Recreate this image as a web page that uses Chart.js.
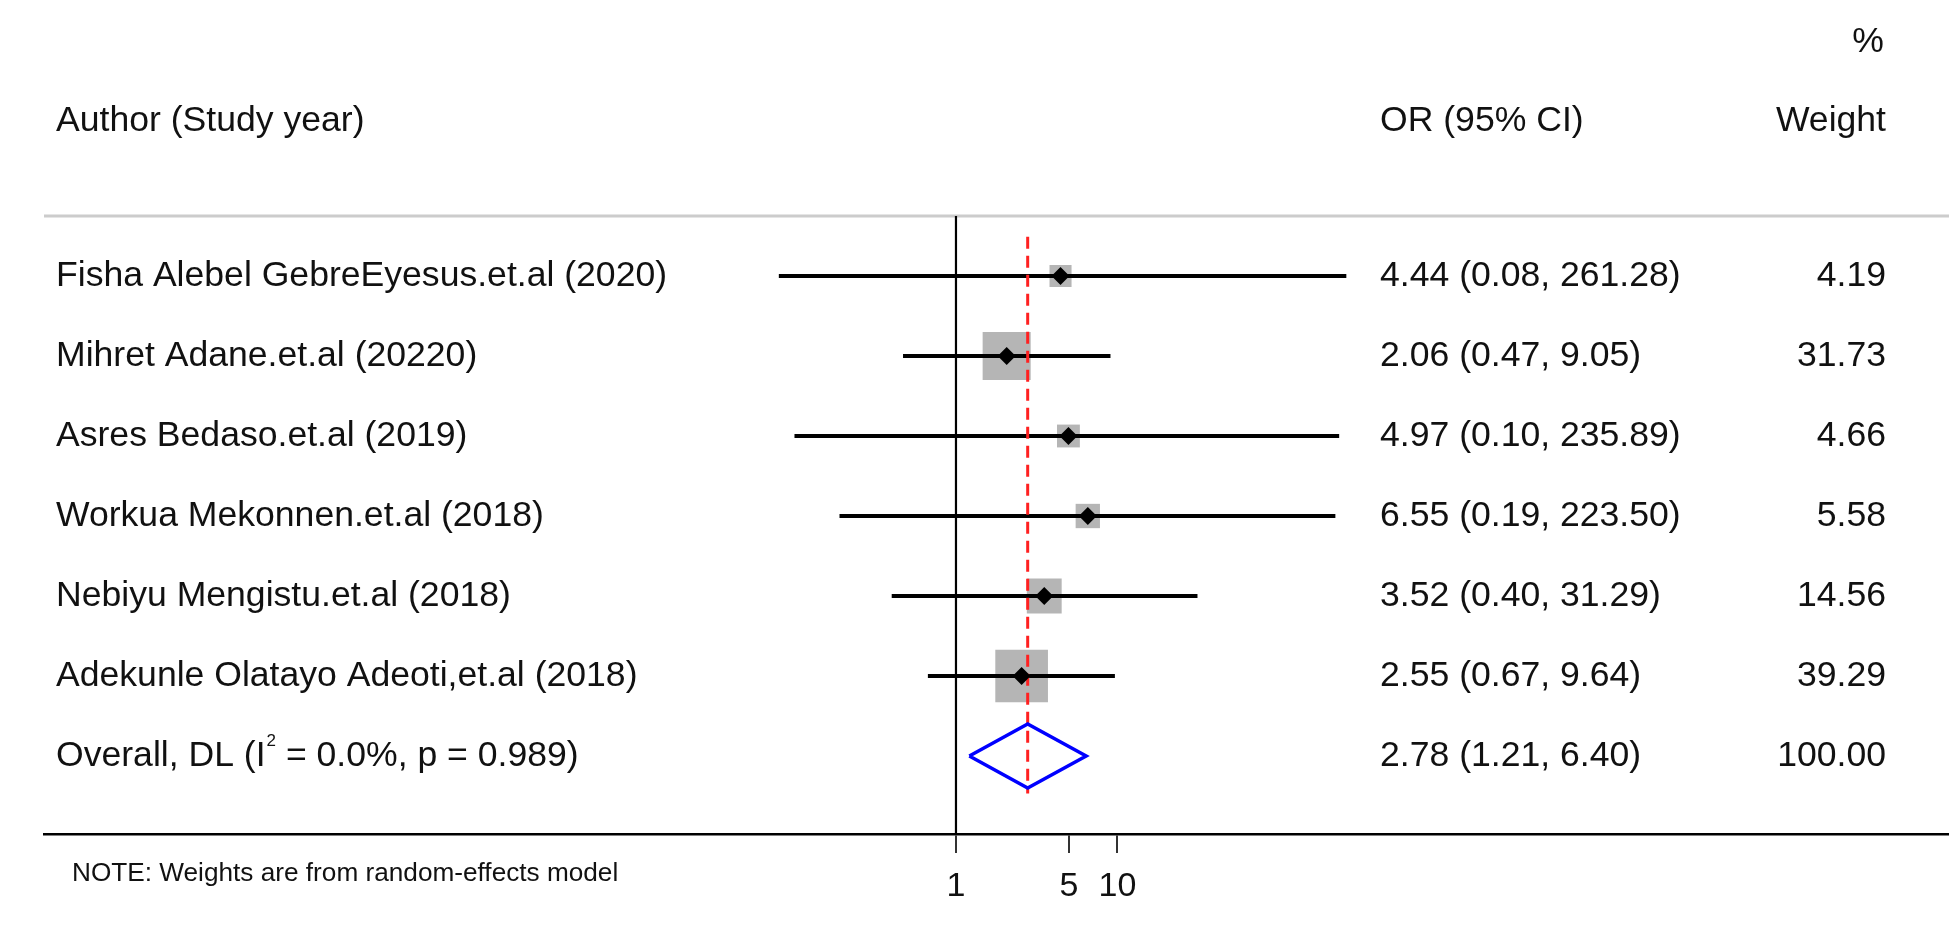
<!DOCTYPE html>
<html>
<head>
<meta charset="utf-8">
<script src="https://cdn.jsdelivr.net/npm/chart.js@4.4.1/dist/chart.umd.min.js"></script>
<style>
  html, body { margin: 0; padding: 0; background: #fff; }
  #forest { display: block; }
</style>
</head>
<body>
<canvas id="forest" width="1949" height="938"></canvas>
<script>
var studies = [
  'Fisha Alebel GebreEyesus.et.al (2020)',
  'Mihret Adane.et.al (20220)',
  'Asres Bedaso.et.al (2019)',
  'Workua Mekonnen.et.al (2018)',
  'Nebiyu Mengistu.et.al (2018)',
  'Adekunle Olatayo Adeoti,et.al (2018)'
];
var orValues = [4.44, 2.06, 4.97, 6.55, 3.52, 2.55];
var ciLower = [0.08, 0.47, 0.10, 0.19, 0.40, 0.67];
var ciUpper = [261.28, 9.05, 235.89, 223.50, 31.29, 9.64];
var weights = [4.19, 31.73, 4.66, 5.58, 14.56, 39.29];
var overallOR = [2.78, 1.21, 6.40]; // estimate, lower, upper
var overallWeight = 100.00;
var heterogeneity = ['0.0%', '0.989']; // I^2, p
var xTicks = [1, 5, 10];

var FONT = '"Liberation Sans", Arial, sans-serif';
var overallRow = studies.length;
var yMin = -0.75, yMax = 6.975;

function fmt(v) { return v.toFixed(2); }

// gray weight boxes, grow with weight
var boxData = orValues.map(function (v, i) { return { x: v, y: i }; });
var boxRadius = weights.map(function (w) { return (7.2 + 7.25 * Math.sqrt(w)) / 2 / Math.SQRT1_2; });

var ciSets = studies.map(function (s, i) {
  return {
    data: [{ x: ciLower[i], y: i }, { x: ciUpper[i], y: i }],
    showLine: true,
    borderColor: '#000',
    borderWidth: 4,
    pointRadius: 0,
    order: 4
  };
});

var datasets = [
  {
    // overall diamond
    data: [
      { x: overallOR[1], y: overallRow },
      { x: overallOR[0], y: overallRow - 0.4 },
      { x: overallOR[2], y: overallRow },
      { x: overallOR[0], y: overallRow + 0.4 },
      { x: overallOR[1], y: overallRow }
    ],
    showLine: true,
    borderColor: '#0000ff',
    borderWidth: 3.5,
    pointRadius: 0,
    order: 1
  },
  {
    // point estimates
    data: orValues.map(function (v, i) { return { x: v, y: i }; }),
    pointStyle: 'rectRot',
    pointRadius: 9,
    backgroundColor: '#000',
    borderColor: '#000',
    borderWidth: 0,
    order: 2
  },
  {
    // overall estimate line
    data: [{ x: overallOR[0], y: -0.49 }, { x: overallOR[0], y: overallRow + 0.47 }],
    showLine: true,
    borderColor: '#ff2020',
    borderWidth: 3,
    borderDash: [12, 7],
    pointRadius: 0,
    order: 3
  },
  {
    // weight boxes
    data: boxData,
    pointStyle: 'rect',
    pointRadius: boxRadius,
    backgroundColor: '#b5b5b5',
    borderWidth: 0,
    order: 5
  },
  {
    // null line at OR = 1
    data: [{ x: 1, y: yMin }, { x: 1, y: yMax }],
    showLine: true,
    borderColor: '#000',
    borderWidth: 2.2,
    pointRadius: 0,
    order: 6
  }
].concat(ciSets);

var textPlugin = {
  id: 'forestText',
  beforeDatasetsDraw: function (chart) {
    var ctx = chart.ctx, area = chart.chartArea;
    ctx.save();
    ctx.strokeStyle = '#cccccc';
    ctx.lineWidth = 3;
    ctx.beginPath();
    ctx.moveTo(area.left, area.top);
    ctx.lineTo(area.right, area.top);
    ctx.stroke();
    ctx.restore();
  },
  afterDraw: function (chart) {
    var ctx = chart.ctx;
    var y = chart.scales.y;
    var big = '35.6px ' + FONT;
    ctx.save();
    ctx.fillStyle = '#111';
    ctx.textBaseline = 'middle';
    ctx.font = big;

    // headers
    ctx.textAlign = 'left';
    ctx.fillText('Author (Study year)', 56, 121);
    ctx.fillText('OR (95% CI)', 1380, 121);
    ctx.textAlign = 'right';
    ctx.fillText('%', 1884, 42);
    ctx.fillText('Weight', 1886, 121);

    studies.forEach(function (s, i) {
      var py = y.getPixelForValue(i);
      ctx.textAlign = 'left';
      ctx.fillText(s, 56, py);
      ctx.fillText(fmt(orValues[i]) + ' (' + fmt(ciLower[i]) + ', ' + fmt(ciUpper[i]) + ')', 1380, py);
      ctx.textAlign = 'right';
      ctx.fillText(fmt(weights[i]), 1886, py);
    });

    // overall row with superscript
    var oy = y.getPixelForValue(overallRow);
    ctx.textAlign = 'left';
    var part1 = 'Overall, DL (I';
    ctx.fillText(part1, 56, oy);
    var w1 = ctx.measureText(part1).width;
    ctx.font = '17px ' + FONT;
    ctx.fillText('2', 56 + w1 + 1, oy - 15);
    var w2 = ctx.measureText('2').width;
    ctx.font = big;
    ctx.fillText(' = ' + heterogeneity[0] + ', p = ' + heterogeneity[1] + ')', 56 + w1 + w2 + 1, oy);
    ctx.fillText(fmt(overallOR[0]) + ' (' + fmt(overallOR[1]) + ', ' + fmt(overallOR[2]) + ')', 1380, oy);
    ctx.textAlign = 'right';
    ctx.fillText(fmt(overallWeight), 1886, oy);

    // note
    ctx.textAlign = 'left';
    ctx.font = '26.2px ' + FONT;
    ctx.fillText('NOTE: Weights are from random-effects model', 72, 874);
    ctx.restore();
  }
};

var forestChart = new Chart(document.getElementById('forest'), {
  type: 'scatter',
  data: { datasets: datasets },
  options: {
    responsive: false,
    animation: false,
    events: [],
    layout: { autoPadding: false, padding: { left: 44, right: 0, top: 216, bottom: 0 } },
    scales: {
      x: {
        type: 'logarithmic',
        bounds: 'data',
        min: 2.254e-6,
        max: 1.409e6,
        position: 'bottom',
        afterBuildTicks: function (scale) {
          scale.ticks = xTicks.map(function (v) { return { value: v }; });
        },
        afterFit: function (scale) { scale.height = 104; },
        ticks: {
          autoSkip: false,
          maxRotation: 0,
          padding: 13,
          color: '#111',
          font: { family: FONT, size: 34 },
          callback: function (value) { return String(value); }
        },
        grid: {
          drawOnChartArea: false,
          drawTicks: true,
          tickLength: 19,
          color: '#333',
          lineWidth: 2
        },
        border: { display: true, color: '#000', width: 2.5 }
      },
      y: {
        type: 'linear',
        min: yMin,
        max: yMax,
        reverse: true,
        display: false
      }
    },
    plugins: {
      legend: { display: false },
      tooltip: { enabled: false }
    }
  },
  plugins: [textPlugin]
});
</script>
</body>
</html>
